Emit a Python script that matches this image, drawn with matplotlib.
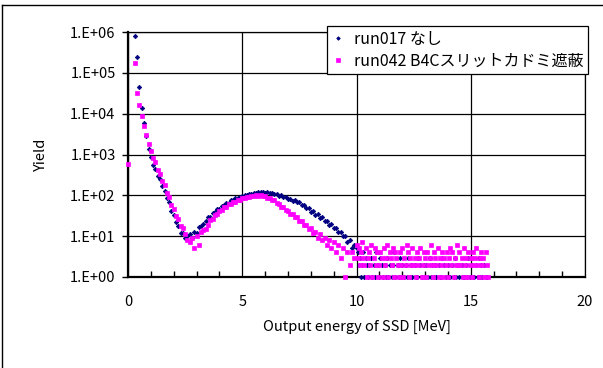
import numpy as np
import matplotlib.pyplot as plt
from matplotlib.lines import Line2D
from matplotlib.ticker import FixedLocator, MultipleLocator, FuncFormatter

plt.rcParams['font.family'] = ['Noto Sans CJK JP', 'DejaVu Sans']

# energy bins [MeV] of the main part of the spectrum
energy = [0.0, 0.1, 0.2, 0.3, 0.4, 0.5, 0.6, 0.7, 0.8, 0.9,
          1.0, 1.1, 1.2, 1.3, 1.4, 1.5, 1.6, 1.7, 1.8, 1.9,
          2.0, 2.1, 2.2, 2.3, 2.4, 2.5, 2.6, 2.7, 2.8, 2.9,
          3.0, 3.1, 3.2, 3.3, 3.4, 3.5, 3.6, 3.7, 3.8, 3.9,
          4.0, 4.1, 4.2, 4.3, 4.4, 4.5, 4.6, 4.7, 4.8, 4.9,
          5.0, 5.1, 5.2, 5.3, 5.4, 5.5, 5.6, 5.7, 5.8, 5.9,
          6.0, 6.1, 6.2, 6.3, 6.4, 6.5, 6.6, 6.7, 6.8, 6.9,
          7.0, 7.1, 7.2, 7.3, 7.4, 7.5, 7.6, 7.7, 7.8, 7.9,
          8.0, 8.1, 8.2, 8.3, 8.4, 8.5, 8.6, 8.7, 8.8, 8.9,
          9.0, 9.1, 9.2, 9.3, 9.4, 9.5, 9.6, 9.7, 9.8, 9.9]

run017 = [0, 0, 0, 800000, 250000, 45000, 14000, 6000, 2800, 1400,
          850, 560, 450, 300, 250, 170, 130, 88, 68, 42,
          33, 22, 18, 12, 12, 9, 10, 11, 9, 13,
          12, 17, 18, 20, 23, 29, 30, 36, 38, 45,
          47, 56, 57, 65, 66, 75, 76, 85, 86, 93,
          94, 101, 101, 109, 109, 116, 114, 120, 118, 122,
          117, 120, 113, 116, 108, 109, 99, 100, 91, 91,
          82, 83, 74, 75, 67, 68, 58, 58, 48, 48,
          40, 41, 33, 34, 28, 29, 23, 24, 19, 20,
          16, 16, 13, 13, 10, 10, 7, 8, 5, 6]

run042 = [600, 0, 0, 170000, 32000, 16000, 9000, 5000, 3000, 1800,
          1250, 820, 650, 420, 335, 225, 178, 116, 92, 59,
          47, 31, 26, 18, 16, 11, 8, 7, 9, 5,
          10, 6, 13, 14, 15, 19, 25, 26, 33, 35,
          41, 44, 52, 53, 60, 60, 68, 68, 78, 78,
          84, 84, 92, 90, 97, 95, 101, 98, 100, 95,
          97, 88, 88, 78, 76, 64, 62, 53, 52, 43,
          42, 35, 34, 29, 29, 24, 24, 19, 19, 15,
          16, 12, 13, 9, 11, 8, 9, 6, 8, 5,
          7, 4, 6, 3, 5, 1, 4, 2, 4, 3]

# low-count tail, finer bins
tail_energy = [10.00, 10.05, 10.10, 10.15, 10.20, 10.25, 10.30, 10.35, 10.40, 10.45,
               10.50, 10.55, 10.60, 10.65, 10.70, 10.75, 10.80, 10.85, 10.90, 10.95,
               11.00, 11.05, 11.10, 11.15, 11.20, 11.25, 11.30, 11.35, 11.40, 11.45,
               11.50, 11.55, 11.60, 11.65, 11.70, 11.75, 11.80, 11.85, 11.90, 11.95,
               12.00, 12.05, 12.10, 12.15, 12.20, 12.25, 12.30, 12.35, 12.40, 12.45,
               12.50, 12.55, 12.60, 12.65, 12.70, 12.75, 12.80, 12.85, 12.90, 12.95,
               13.00, 13.05, 13.10, 13.15, 13.20, 13.25, 13.30, 13.35, 13.40, 13.45,
               13.50, 13.55, 13.60, 13.65, 13.70, 13.75, 13.80, 13.85, 13.90, 13.95,
               14.00, 14.05, 14.10, 14.15, 14.20, 14.25, 14.30, 14.35, 14.40, 14.45,
               14.50, 14.55, 14.60, 14.65, 14.70, 14.75, 14.80, 14.85, 14.90, 14.95,
               15.00, 15.05, 15.10, 15.15, 15.20, 15.25, 15.30, 15.35, 15.40, 15.45,
               15.50, 15.55, 15.60, 15.65, 15.70, 15.75, 15.80]

run017_tail = [5, 4, 2, 3, 1, 2, 4, 1, 3, 2,
               1, 2, 0, 3, 1, 2, 1, 4, 0, 2,
               1, 3, 2, 1, 0, 2, 1, 3, 1, 2,
               0, 1, 2, 4, 1, 0, 2, 1, 3, 1,
               2, 0, 1, 2, 1, 3, 0, 1, 2, 1,
               0, 2, 1, 1, 3, 0, 2, 1, 0, 2,
               1, 2, 0, 1, 3, 1, 2, 0, 1, 2,
               1, 0, 2, 1, 1, 3, 0, 2, 1, 0,
               2, 1, 1, 0, 2, 1, 3, 1, 0, 2,
               1, 0, 2, 1, 1, 0, 2, 1, 3, 1,
               0, 2, 1, 1, 0, 2, 1, 3, 1, 2,
               1, 0, 2, 1, 1, 0, 0]

run042_tail = [6, 3, 5, 2, 4, 7, 3, 2, 5, 1,
               3, 4, 2, 6, 1, 3, 5, 2, 4, 1,
               2, 4, 3, 1, 5, 2, 3, 6, 1, 4,
               3, 2, 5, 1, 4, 3, 2, 1, 4, 2,
               5, 1, 3, 2, 6, 4, 1, 3, 2, 5,
               2, 3, 1, 4, 2, 3, 5, 1, 2, 4,
               3, 1, 4, 2, 3, 6, 2, 1, 4, 3,
               2, 5, 1, 3, 2, 4, 1, 3, 2, 4,
               1, 3, 5, 2, 4, 1, 3, 2, 6, 2,
               4, 2, 3, 1, 5, 2, 3, 1, 4, 2,
               3, 1, 4, 2, 3, 5, 2, 1, 3, 4,
               2, 3, 1, 4, 2, 1, 0]

labels = ['run017 なし', 'run042 B4Cスリットカドミ遮蔽']
colors = ['#000080', '#FF00FF']


def nonzero(xs, ys):
    x = np.array(xs, dtype=float)
    y = np.array(ys, dtype=float)
    keep = y > 0
    return x[keep], y[keep]


fig = plt.figure(figsize=(6.03, 3.68), dpi=100)
ax = fig.add_axes([128 / 603, 91 / 368, 457 / 603, 245 / 368])

x1, y1 = nonzero(energy + tail_energy, run017 + run017_tail)
x2, y2 = nonzero(energy + tail_energy, run042 + run042_tail)
ax.plot(x1, y1, linestyle='none', marker='D', markersize=2.3, markeredgewidth=0.5,
        color=colors[0], label=labels[0], clip_on=False, zorder=3)
ax.plot(x2, y2, linestyle='none', marker='s', markersize=3.0, markeredgewidth=0.5,
        color=colors[1], label=labels[1], clip_on=False, zorder=4)

ax.set_yscale('log')
ax.set_ylim(1, 1e6)
ax.set_xlim(0, 20)
ax.yaxis.set_major_locator(FixedLocator([1, 10, 100, 1e3, 1e4, 1e5, 1e6]))
ax.yaxis.set_minor_locator(FixedLocator([]))
ax.yaxis.set_major_formatter(FuncFormatter(lambda v, p: '1.E+%02d' % round(np.log10(v))))
ax.xaxis.set_major_locator(MultipleLocator(5))
ax.xaxis.set_minor_locator(MultipleLocator(1))
ax.tick_params(axis='x', which='major', length=0, pad=13, labelsize=10.5)
ax.tick_params(axis='x', which='minor', direction='in', length=4, width=1)
ax.tick_params(axis='y', which='major', direction='out', length=4, width=1, labelsize=10.5, pad=5)
ax.grid(True, which='major', color='black', linewidth=0.9)
for side in ['top', 'right']:
    ax.spines[side].set_linewidth(0.9)
for side in ['left', 'bottom']:
    ax.spines[side].set_linewidth(1.6)

ax.set_xlabel('Output energy of SSD [MeV]', fontsize=10.5, labelpad=8)
ax.set_ylabel('Yield', fontsize=10.5, labelpad=16)

leg = ax.legend(loc='upper left', bbox_to_anchor=(327 / 603, 1 - 26 / 368),
                bbox_transform=fig.transFigure, fontsize=11.5, frameon=True,
                fancybox=False, framealpha=1, edgecolor='black',
                handlelength=0.8, handletextpad=0.6, borderpad=0.3,
                labelspacing=0.3, borderaxespad=0, markerscale=0.8)
leg.get_frame().set_linewidth(0.9)

# outer chart area border (top and left edges visible)
fig.add_artist(Line2D([1.5 / 603, 1.5 / 603], [0, 1 - 4.5 / 368],
                      transform=fig.transFigure, color='black', linewidth=1))
fig.add_artist(Line2D([1.5 / 603, 1], [1 - 4.5 / 368, 1 - 4.5 / 368],
                      transform=fig.transFigure, color='black', linewidth=1))

fig.savefig('out.png', dpi=100)
